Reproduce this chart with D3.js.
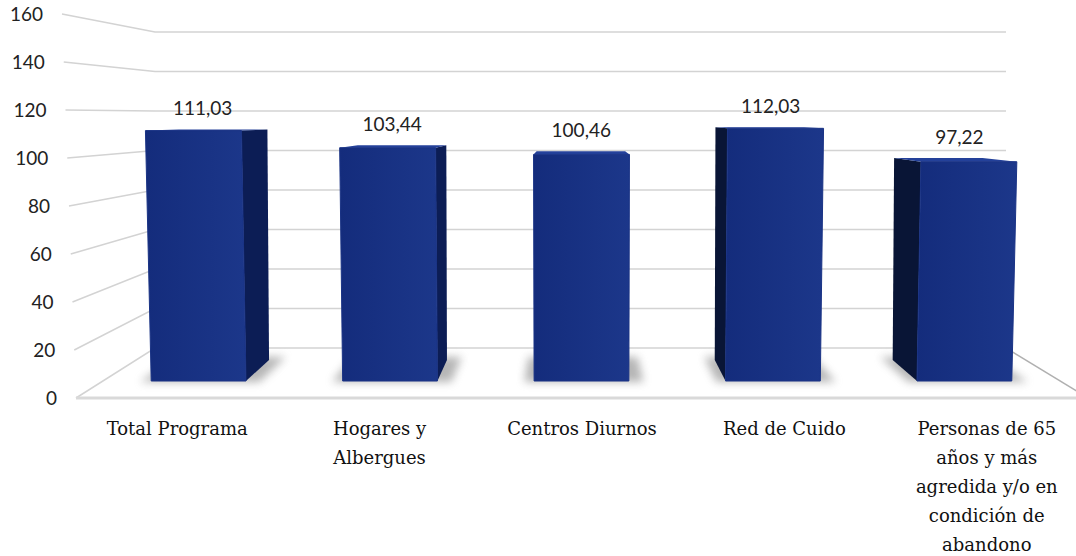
<!DOCTYPE html>
<html>
<head>
<meta charset="utf-8">
<script src="https://cdn.jsdelivr.net/npm/d3@7"></script>
<style>
  body { margin: 0; background: #fff; }
  svg { display: block; }
</style>
</head>
<body>
<div id="chart"></div>
<script>
// data
var categories = ["Total Programa", "Hogares y\nAlbergues", "Centros Diurnos", "Red de Cuido",
  "Personas de 65\naños y más\nagredida y/o en\ncondición de\nabandono"];
var values = [111.03, 103.44, 100.46, 112.03, 97.22];
var valueLabels = ["111,03", "103,44", "100,46", "112,03", "97,22"];
var ticks = [0, 20, 40, 60, 80, 100, 120, 140, 160];

var width = 1076, height = 556;

var svg = d3.select("#chart").append("svg")
  .attr("width", width).attr("height", height);

var defs = svg.append("defs");
defs.append("filter").attr("id", "blur").attr("x", "-50%").attr("y", "-50%")
  .attr("width", "200%").attr("height", "200%")
  .append("feGaussianBlur").attr("stdDeviation", 4);
var grad = defs.append("linearGradient").attr("id", "frontGrad")
  .attr("x1", "0").attr("x2", "1").attr("y1", "0").attr("y2", "0");
grad.append("stop").attr("offset", "0%").attr("stop-color", "#142c7c");
grad.append("stop").attr("offset", "100%").attr("stop-color", "#1c378a");

// depth planes: front edge of the floor and the back wall
var yFront = d3.scaleLinear().domain([0, 160]).range([398, 14]);
var yBack = d3.scaleLinear().domain([0, 160]).range([348, 32]);
var xBack = d3.scaleLinear().domain([0, 1]).range([155, 1006]);
var frontCx = 582, frontW = 1012, frontSlant = 0.175;

// u: 0..1 across the floor, v: value, w: depth (0 front, 1 back)
function proj(u, v, w) {
  var xb = xBack(u), yb = yBack(v);
  var xf = frontCx + (u - 0.5) * (frontW + frontSlant * v), yf = yFront(v);
  return [xf + (xb - xf) * w, yf + (yb - yf) * w];
}

var x = d3.scaleBand().domain(categories).range([0, 1])
  .paddingInner(0.505).paddingOuter(0.2525);

var barFront = 0.34, barBack = 0.76;

// grid
var grid = svg.append("g").attr("stroke", "#d3d3d3").attr("stroke-width", 1.5).attr("fill", "none");
ticks.forEach(function(t) {
  var a = proj(0, t, 0), b = proj(0, t, 1), c = proj(1, t, 1);
  grid.append("polyline").attr("points", [a, b, c].map(function(p) { return p.join(","); }).join(" "));
});
// floor front and right edges
var f0 = proj(0, 0, 0), f1 = proj(1, 0, 0), fb = proj(1, 0, 1);
grid.append("line").attr("x1", f0[0]).attr("y1", f0[1]).attr("x2", f1[0]).attr("y2", f1[1])
  .attr("stroke-width", 3).attr("stroke", "#d9d9d9");
grid.append("line").attr("x1", fb[0]).attr("y1", fb[1]).attr("x2", f1[0]).attr("y2", f1[1])
  .attr("stroke", "#b0b0b0");

// tick labels
svg.append("g").selectAll("text").data(ticks).enter().append("text")
  .attr("x", function(d) { return proj(0, d, 0)[0] - 19; })
  .attr("y", function(d) { return proj(0, d, 0)[1]; })
  .attr("dy", "0.35em")
  .attr("text-anchor", "end")
  .attr("font-family", "Lato, 'Open Sans', sans-serif")
  .attr("font-size", 19)
  .attr("fill", "#222")
  .text(function(d) { return d; });

function pts(arr) { return arr.map(function(p) { return p.join(","); }).join(" "); }

var bars = svg.append("g");
categories.forEach(function(c, i) {
  var u0 = x(c), u1 = x(c) + x.bandwidth(), v = values[i];
  var g = bars.append("g");

  // shadow on the floor
  g.append("polygon")
    .attr("points", pts([proj(u0 - 0.01, 0, barFront - 0.02), proj(u1 + 0.015, 0, barFront - 0.02),
      proj(u1 + 0.015, 0, barBack + 0.06), proj(u0 - 0.01, 0, barBack + 0.06)]))
    .attr("fill", "#7a7a7a").attr("opacity", 0.55).attr("filter", "url(#blur)");

  var fl = proj(u0, 0, barFront), fr = proj(u1, 0, barFront);
  var tl = proj(u0, v, barFront), tr = proj(u1, v, barFront);
  var bl = proj(u0, 0, barBack), br = proj(u1, 0, barBack);
  var btl = proj(u0, v, barBack), btr = proj(u1, v, barBack);

  // right side
  if (br[0] > fr[0] + 0.5) {
    g.append("polygon").attr("points", pts([fr, br, btr, tr])).attr("fill", "#0c1d55");
  }
  // left side
  if (bl[0] < fl[0] - 0.5) {
    g.append("polygon").attr("points", pts([fl, bl, btl, tl])).attr("fill", "#091536");
  }
  // top
  if (btl[1] < tl[1]) {
    g.append("polygon").attr("points", pts([tl, tr, btr, btl])).attr("fill", "#24419a");
  }
  // front
  g.append("polygon").attr("points", pts([fl, fr, tr, tl]))
    .attr("fill", "url(#frontGrad)").attr("stroke", "#1a3385").attr("stroke-width", 1)
    .attr("stroke-linejoin", "round");

  // value label over the bar
  var top = proj((u0 + u1) / 2, v, (barFront + barBack) / 2 - 0.08);
  g.append("text")
    .attr("x", top[0]).attr("y", Math.min(tl[1], btl[1]) - 14)
    .attr("text-anchor", "middle")
    .attr("font-family", "Lato, 'Open Sans', sans-serif")
    .attr("font-size", 19)
    .attr("fill", "#222")
    .text(valueLabels[i]);
});

// category labels along the front edge
var cat = svg.append("g");
categories.forEach(function(c) {
  var p = proj(x(c) + x.bandwidth() / 2, 0, 0);
  var t = cat.append("text")
    .attr("x", p[0]).attr("y", p[1] + 37)
    .attr("text-anchor", "middle")
    .attr("font-family", "'DejaVu Serif', serif")
    .attr("font-size", 18)
    .attr("fill", "#111");
  c.split("\n").forEach(function(line, j) {
    t.append("tspan").attr("x", p[0]).attr("dy", j ? 29 : 0).text(line);
  });
});
</script>
</body>
</html>
